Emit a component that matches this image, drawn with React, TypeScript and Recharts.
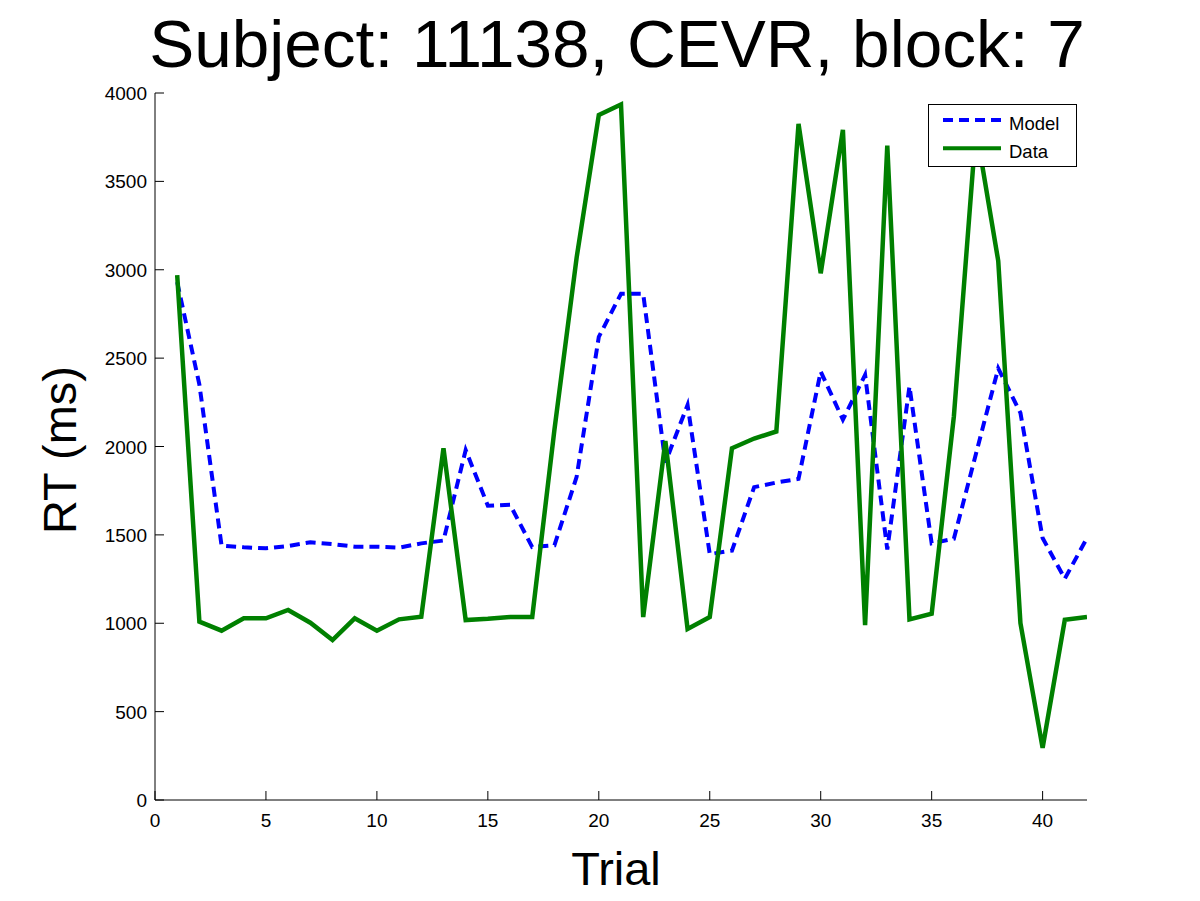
import { LineChart, Line, XAxis, YAxis, Legend, Label } from 'recharts'

// trial numbers 1..42
const trials = Array.from({ length: 42 }, (_, i) => i + 1)

// model RT (ms)
const modelRT = [
  2930, 2350, 1439, 1430, 1424, 1437, 1458, 1448, 1433, 1433,
  1428, 1452, 1468, 1980, 1665, 1671, 1431, 1441, 1828, 2620,
  2864, 2864, 1909, 2235, 1391, 1411, 1770, 1796, 1817, 2424,
  2152, 2405, 1417, 2340, 1452, 1478, 1960, 2442, 2190, 1482,
  1252, 1482,
]

// observed RT (ms), solid green line
const dataRT = [
  2970, 1009, 958, 1028, 1028, 1075, 1003, 905, 1028, 958,
  1022, 1037, 1990, 1018, 1025, 1035, 1035, 2095, 3068, 3876,
  3935, 1035, 2031, 968, 1035, 1990, 2045, 2085, 3825, 2980,
  3791, 989, 3703, 1022, 1054, 2170, 3800, 3050, 1001, 295,
  1019, 1035,
]

const xTicks = [0, 5, 10, 15, 20, 25, 30, 35, 40]
const yTicks = [0, 500, 1000, 1500, 2000, 2500, 3000, 3500, 4000]
const legendOrder = ['Model', 'Data']

const chartData = trials.map((t, i) => ({ trial: t, model: modelRT[i], data: dataRT[i] }))

const FONT = '"Liberation Sans", Arial, Helvetica, sans-serif'
const BLUE = '#0000ff'
const GREEN = '#008000'
const MODEL_DASH = '10 6'

// plot box edges in px (matlab axes position)
const PLOT_LEFT = 155
const PLOT_BOTTOM = 800
const TICK_LEN = 9

function YTick({ y, payload }: any) {
  return (
    <g>
      <line x1={PLOT_LEFT} y1={y} x2={PLOT_LEFT + TICK_LEN} y2={y} stroke="#000" strokeWidth={1} />
      <text x={PLOT_LEFT - 8} y={y + 7} textAnchor="end" fontSize={19} fontFamily={FONT} fill="#000">
        {payload.value}
      </text>
    </g>
  )
}

function XTick({ x, payload }: any) {
  return (
    <g>
      <line x1={x} y1={PLOT_BOTTOM} x2={x} y2={PLOT_BOTTOM - TICK_LEN} stroke="#000" strokeWidth={1} />
      <text x={x} y={PLOT_BOTTOM + 27} textAnchor="middle" fontSize={19} fontFamily={FONT} fill="#000">
        {payload.value}
      </text>
    </g>
  )
}

function LegendBox({ payload }: any) {
  const items = [...(payload ?? [])].sort(
    (a: any, b: any) => legendOrder.indexOf(a.value) - legendOrder.indexOf(b.value),
  )
  return (
    <svg width={150} height={64} style={{ display: 'block' }}>
      <rect x={0.5} y={0.5} width={148} height={62} fill="#fff" stroke="#000" strokeWidth={1} />
      {items.map((p: any, i: number) => (
        <g key={p.value}>
          <line
            x1={15}
            x2={73}
            y1={16 + i * 28.3}
            y2={16 + i * 28.3}
            stroke={p.color}
            strokeWidth={4}
            strokeDasharray={p.value === 'Model' ? MODEL_DASH : undefined}
          />
          <text x={81} y={26 + i * 28.3} fontSize={18.5} fontFamily={FONT} fill="#000">
            {p.value}
          </text>
        </g>
      ))}
    </svg>
  )
}

export default function App() {
  return (
    <div style={{ position: 'absolute', left: 0, top: 0, width: 1200, height: 901, background: '#fff', fontFamily: FONT }}>
      <div
        style={{
          position: 'absolute',
          left: 117,
          top: 10,
          width: 1000,
          textAlign: 'center',
          fontSize: 67.5,
          lineHeight: '67px',
          color: '#000',
          whiteSpace: 'nowrap',
        }}
      >
        Subject: 11138, CEVR, block: 7
      </div>
      <LineChart width={1200} height={901} data={chartData} margin={{ top: 93, right: 113, bottom: 71, left: 95 }}>
        <XAxis
          dataKey="trial"
          type="number"
          domain={[0, 42]}
          ticks={xTicks}
          interval={0}
          height={30}
          tickLine={false}
          axisLine={{ stroke: '#000', strokeWidth: 1 }}
          tick={<XTick />}
          allowDataOverflow
        >
          <Label
            content={() => (
              <text x={616} y={885} textAnchor="middle" fontSize={47} fontFamily={FONT} fill="#000">
                Trial
              </text>
            )}
          />
        </XAxis>
        <YAxis
          type="number"
          domain={[0, 4000]}
          ticks={yTicks}
          interval={0}
          width={60}
          tickLine={false}
          axisLine={{ stroke: '#000', strokeWidth: 1 }}
          tick={<YTick />}
          allowDataOverflow
        >
          <Label
            content={() => (
              <text
                x={76}
                y={450}
                textAnchor="middle"
                fontSize={47}
                fontFamily={FONT}
                fill="#000"
                transform="rotate(-90, 76, 450)"
              >
                RT (ms)
              </text>
            )}
          />
        </YAxis>
        <Line
          name="Model"
          dataKey="model"
          type="linear"
          stroke={BLUE}
          strokeWidth={4}
          strokeDasharray={MODEL_DASH}
          dot={false}
          activeDot={false}
          isAnimationActive={false}
        />
        <Line
          name="Data"
          dataKey="data"
          type="linear"
          stroke={GREEN}
          strokeWidth={4.5}
          dot={false}
          activeDot={false}
          isAnimationActive={false}
        />
        <Legend
          layout="vertical"
          align="center"
          verticalAlign="middle"
          wrapperStyle={{ left: 928, top: 104, width: 150, height: 64, zIndex: 5 }}
          content={<LegendBox />}
        />
      </LineChart>
    </div>
  )
}
